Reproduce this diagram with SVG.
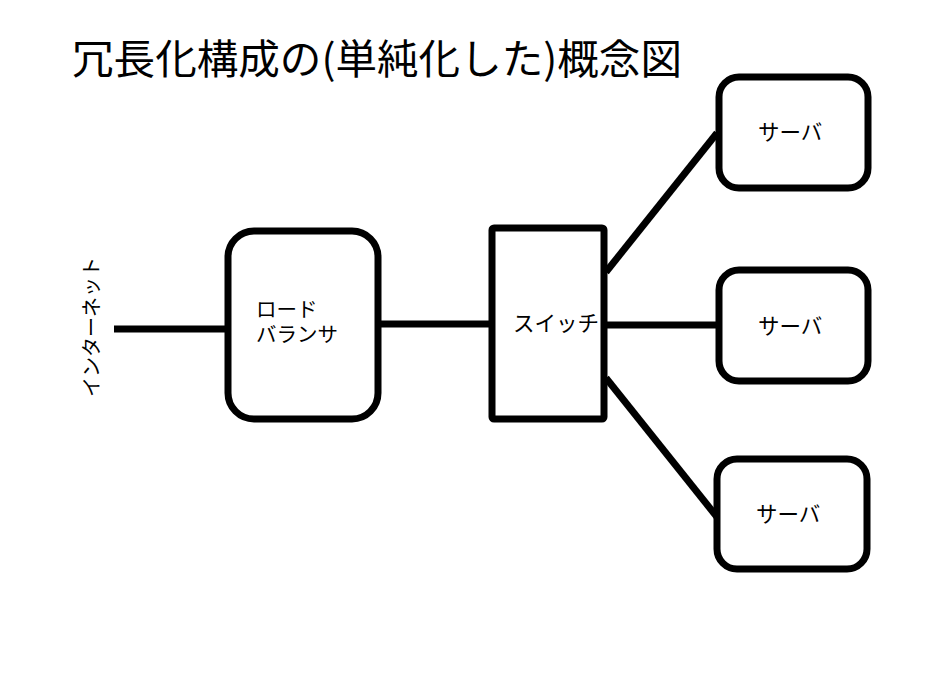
<svg xmlns="http://www.w3.org/2000/svg" width="945" height="680" viewBox="0 0 945 680">
<style>
.box{fill:#fff;stroke:#000;stroke-width:7}
.ln{stroke:#000;stroke-width:7;fill:none}
.t{font-family:"Noto Sans CJK JP","Noto Sans",sans-serif;fill:#000}
.lbl{font-size:21.5px}
</style>
<rect width="945" height="680" fill="#fff"/>
<text class="t" x="72" y="74" font-size="41" textLength="610" lengthAdjust="spacingAndGlyphs">冗長化構成の(単純化した)概念図</text>
<g id="connectors">
<line class="ln" x1="114" y1="329" x2="228" y2="329"/>
<line class="ln" x1="378" y1="324" x2="492" y2="324"/>
<line class="ln" x1="604" y1="325" x2="719" y2="325"/>
<line class="ln" x1="606" y1="272" x2="717" y2="133"/>
<line class="ln" x1="606" y1="378" x2="717" y2="517"/>
</g>
<g id="internet">
<text class="t" font-size="20" transform="translate(99,327) rotate(-90)" text-anchor="middle">インターネット</text>
</g>
<g id="loadbalancer">
<rect class="box" x="228" y="231" width="150" height="188" rx="26"/>
<text class="t" font-size="20.5" x="256" y="317">ロード</text>
<text class="t" font-size="20.5" x="256" y="342">バランサ</text>
</g>
<g id="switch">
<rect class="box" x="492" y="228" width="112" height="191" rx="2"/>
<text class="t lbl" x="513" y="331">スイッチ</text>
</g>
<g id="server1">
<rect class="box" x="719" y="77" width="149" height="111" rx="20"/>
<text class="t lbl" x="758" y="140">サーバ</text>
</g>
<g id="server2">
<rect class="box" x="719" y="270" width="149" height="111" rx="20"/>
<text class="t lbl" x="758" y="334">サーバ</text>
</g>
<g id="server3">
<rect class="box" x="717" y="459" width="150" height="110" rx="20"/>
<text class="t lbl" x="756" y="522">サーバ</text>
</g>
</svg>
